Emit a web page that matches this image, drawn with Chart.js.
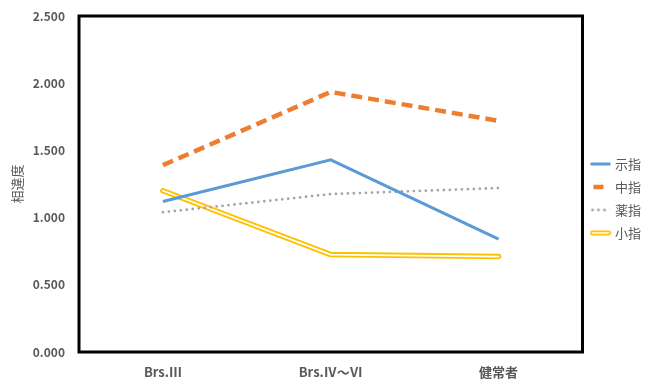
<!DOCTYPE html>
<html>
<head>
<meta charset="utf-8">
<script src="https://cdn.jsdelivr.net/npm/chart.js@4/dist/chart.umd.min.js"></script>
<style>
  html,body{margin:0;padding:0;background:#fff;}
  #wrap{width:645px;height:381px;position:relative;}
</style>
</head>
<body>
<div id="wrap"><canvas id="c"></canvas></div>
<script>
const categories = ['Brs.Ⅲ', 'Brs.Ⅳ～Ⅵ', '健常者'];
const indexFinger = [1.12, 1.43, 0.84];   // 示指
const middleFinger = [1.39, 1.935, 1.72]; // 中指
const ringFinger = [1.04, 1.175, 1.22];   // 薬指
const littleFinger = [1.20, 0.725, 0.71]; // 小指
const yTicks = [0, 0.5, 1.0, 1.5, 2.0, 2.5];

const FONT = "'Noto Sans CJK JP', 'Open Sans', sans-serif";
const TXT = '#595959';

function swatch(draw){
  const cv = document.createElement('canvas');
  cv.width = 22; cv.height = 8;
  const g = cv.getContext('2d');
  draw(g);
  return cv;
}
const swatches = [
  swatch(g => { g.strokeStyle='#5b9bd5'; g.lineWidth=3; g.beginPath(); g.moveTo(1,4); g.lineTo(21,4); g.stroke(); }),
  swatch(g => { g.strokeStyle='#ed7d31'; g.lineWidth=4.5; g.beginPath(); g.moveTo(4,4); g.lineTo(14,4); g.stroke(); }),
  swatch(g => { g.fillStyle='#a5a5a5'; [3,9,15].forEach(x=>{ g.beginPath(); g.arc(x,4,1.4,0,Math.PI*2); g.fill(); }); }),
  swatch(g => { g.strokeStyle='#ffc000'; g.lineWidth=5; g.lineCap='round'; g.beginPath(); g.moveTo(3,4); g.lineTo(19,4); g.stroke();
                g.strokeStyle='#fff'; g.lineWidth=1.6; g.beginPath(); g.moveTo(3,4); g.lineTo(19,4); g.stroke(); })
];

const boxPlugin = {
  id: 'plotBox',
  afterDraw(chart){
    const a = chart.chartArea, ctx = chart.ctx;
    ctx.save();
    ctx.strokeStyle = '#000';
    ctx.lineWidth = 3;
    ctx.strokeRect(a.left, a.top, a.right - a.left, a.bottom - a.top);
    ctx.restore();
  }
};

new Chart(document.getElementById('c'), {
  type: 'line',
  data: {
    labels: categories,
    datasets: [
      { label: '示指', data: indexFinger, borderColor: '#5b9bd5', borderWidth: 3, pointRadius: 0, tension: 0 },
      { label: '中指', data: middleFinger, borderColor: '#ed7d31', borderWidth: 4.5, borderDash: [11, 6], pointRadius: 0, tension: 0 },
      { label: '薬指', data: ringFinger, borderColor: '#a5a5a5', borderWidth: 2.8, borderDash: [0, 6], borderCapStyle: 'round', pointRadius: 0, tension: 0 },
      { label: '小指', data: littleFinger, borderColor: '#ffc000', borderWidth: 5.5, borderCapStyle: 'round', borderJoinStyle: 'round', pointRadius: 0, tension: 0, order: 1 },
      { label: '', data: littleFinger, borderColor: '#ffffff', borderWidth: 1.8, borderCapStyle: 'round', borderJoinStyle: 'round', pointRadius: 0, tension: 0 }
    ]
  },
  options: {
    responsive: true,
    maintainAspectRatio: false,
    animation: false,
    events: [],
    layout: { padding: { top: 16, right: -6, left: 0, bottom: 0 } },
    plugins: {
      tooltip: { enabled: false },
      legend: {
        position: 'right',
        labels: {
          usePointStyle: true,
          pointStyleWidth: 16,
          color: TXT,
          font: { family: FONT, size: 13 },
          padding: 10,
          generateLabels(chart){
            return chart.data.datasets.slice(0, 4).map((ds, i) => ({
              text: ds.label, pointStyle: swatches[i], fontColor: TXT,
              strokeStyle: 'transparent', fillStyle: 'transparent', lineWidth: 0, datasetIndex: i
            }));
          }
        }
      }
    },
    scales: {
      x: {
        offset: true,
        grid: { display: false },
        border: { display: false },
        ticks: { color: TXT, font: { family: FONT, size: 13, weight: 'bold' }, padding: 4 },
        afterFit(s){ s.height = 29; }
      },
      y: {
        min: 0, max: 2.5,
        grid: { display: false },
        border: { display: false },
        afterBuildTicks(s){ s.ticks = yTicks.map(v => ({ value: v })); },
        ticks: { color: TXT, font: { family: FONT, size: 12, weight: 'bold' }, padding: 6,
                 callback: v => Number(v).toFixed(3) },
        title: { display: true, text: '相違度', color: TXT, font: { family: FONT, size: 13 }, padding: { top: 9, bottom: 0 } },
        afterFit(s){ s.width = 79; s.paddingTop = 8; s.paddingBottom = 8; }
      }
    }
  },
  plugins: [boxPlugin]
});
</script>
</body>
</html>
